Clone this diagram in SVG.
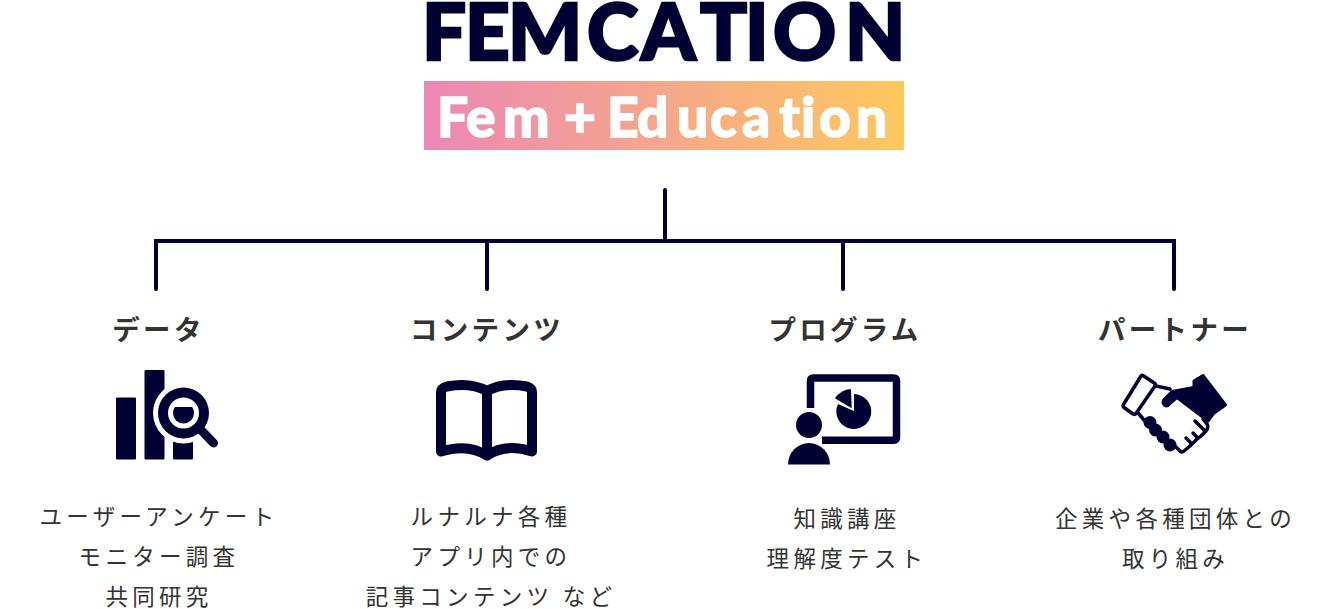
<svg xmlns="http://www.w3.org/2000/svg" width="1330" height="609" viewBox="0 0 1330 609">
<style>
.h{font-family:"Noto Sans CJK JP","Noto Sans",sans-serif;font-weight:700;font-size:27.5px;letter-spacing:3.300px;fill:#333;text-anchor:middle}
.b{font-family:"Noto Sans CJK JP","Noto Sans",sans-serif;font-weight:400;font-size:22.500px;letter-spacing:4.300px;fill:#333;text-anchor:middle}
.n{fill:#000033}
.s{fill:none;stroke:#000033;stroke-linecap:round;stroke-linejoin:round}
.logo{font-family:"Lato","Inter",sans-serif;font-weight:900;font-variant-ligatures:none}
</style>
<defs>
<linearGradient id="g" x1="0" x2="1" y1="0" y2="0"><stop offset="0" stop-color="#ec87b6"/><stop offset="1" stop-color="#fec85e"/></linearGradient>
<clipPath id="lens"><rect x="165" y="407" width="40" height="30"/></clipPath>
</defs>
<g id="logo">
<text class="logo n" x="422 465 508 587 641 700 745 773 845" y="59.500" font-size="78" stroke="#000033" stroke-width="2.500">FEMCATION</text>
<rect x="424" y="81" width="480" height="69" fill="url(#g)"/>
<text class="logo" x="437 466 503 555 564 600 607 637 677 710 742 779 801 819 856" y="136.500" font-size="55" fill="#fff" stroke="#fff" stroke-width="1.500">Fem + Education</text>
</g>
<g id="connectors" fill="none" stroke="#000033" stroke-width="4" stroke-linecap="round">
<path d="M665 190V241"/>
<path d="M156 289V241H1174V289"/>
<path d="M487 241V289"/>
<path d="M843 241V289"/>
</g>
<g id="data">
<text class="h" x="158.500" y="340">データ</text>
<rect class="n" x="116" y="397.500" width="20" height="62" rx="1"/>
<rect class="n" x="144.500" y="370" width="20" height="89.500" rx="1"/>
<rect class="n" x="173" y="430" width="20" height="29.500" rx="1"/>
<circle cx="183.500" cy="413" r="30.500" fill="#fff"/>
<circle class="n" cx="183.500" cy="413" r="25.500"/>
<circle cx="183.500" cy="413" r="15.500" fill="#fff"/>
<circle class="n" cx="183.500" cy="413" r="10.500" clip-path="url(#lens)"/>
<path class="s" stroke-width="9" d="M202 431L213.500 443"/>
<text class="b" x="159" y="525">ユーザーアンケート</text>
<text class="b" x="159" y="565">モニター調査</text>
<text class="b" x="159" y="605">共同研究</text>
</g>
<g id="contents">
<text class="h" x="487" y="340">コンテンツ</text>
<path class="s" stroke-width="10" d="M441 451.500V392.500Q441 388 447 386.500C460 384 475 384.500 487 391C499 384.500 514 384 527 386.500Q532 388 532 392.500V451.500C515 446 500 447 487 455.500C474 447 459 446 441 451.500ZM487 391V455"/>
<text class="b" x="491" y="525">ルナルナ各種</text>
<text class="b" x="491" y="565">アプリ内での</text>
<text class="b" x="491" y="605">記事コンテンツ など</text>
</g>
<g id="program">
<text class="h" x="845" y="340">プログラム</text>
<path class="s" stroke-width="7.500" style="stroke-linecap:butt" d="M810.500 408V381Q810.500 378 813.500 378H893.500Q896.500 378 896.500 381V437Q896.500 440.300 893.500 440.300H822"/>
<path class="n" d="M854 394A17.500 17.500 0 1 1 838 404L854 411Z"/>
<path class="n" d="M851.700 408.300L851 389A21 21 0 0 0 835 398.300Z"/>
<circle class="n" cx="809" cy="425" r="13"/>
<path class="n" d="M788 464.500A21 21.500 0 0 1 830 464.500Z"/>
<text class="b" x="847" y="527">知識講座</text>
<text class="b" x="847" y="567">理解度テスト</text>
</g>
<g id="partner">
<text class="h" x="1175" y="340">パートナー</text>
<path class="s" stroke-width="3.500" style="fill:#fff" d="M1143 375.500L1155 383.500Q1156 385 1155 386L1136 413.500Q1135 415 1133 414L1124 407.500Q1122.500 406 1123.500 404.500L1141 376Q1142 375 1143 375.500Z"/>
<path class="s" stroke-width="3.500" d="M1155 385.700L1170 389M1138.500 413.500L1145 421M1176 447L1180 451Q1181 453 1184 451L1190 446Q1192 444 1190 442L1186 438M1190 446L1196 440Q1198 438 1196 436L1193 433M1196 440L1201 436Q1206 432 1204 430L1195 421M1201 436L1206 431Q1209 427 1207 424L1203 419"/>
<path class="n" stroke="#000033" stroke-width="3" stroke-linejoin="round" d="M1172 391.500L1194 387.500V381L1203 375.500L1225.500 405L1213.500 413.500L1208 421L1177 397.500L1168 405.500Q1164 407 1163 402.500Q1163 400.500 1164 399.500Z"/>
<circle class="n" cx="1150" cy="422.500" r="6.500"/>
<circle class="n" cx="1155.500" cy="430" r="6.500"/>
<circle class="n" cx="1163" cy="437" r="6.500"/>
<circle class="n" cx="1170" cy="445" r="6.500"/>
<text class="b" x="1175.500" y="527">企業や各種団体との</text>
<text class="b" x="1175.500" y="567">取り組み</text>
</g>
</svg>
